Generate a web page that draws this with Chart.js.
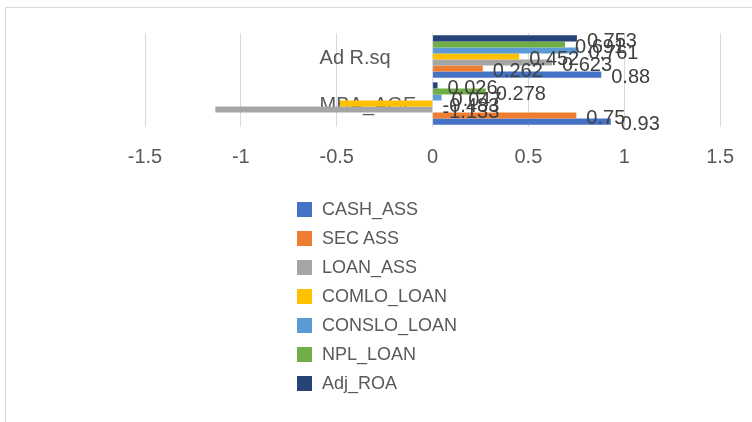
<!DOCTYPE html>
<html>
<head>
<meta charset="utf-8">
<script src="https://cdn.jsdelivr.net/npm/chart.js@4.4.0/dist/chart.umd.min.js"></script>
<style>
  html, body { margin: 0; padding: 0; background: #fff; }
  #wrap { position: relative; width: 752px; height: 422px; overflow: hidden;
          font-family: "Liberation Sans", Arial, sans-serif; }
  #frame { position: absolute; left: 5px; top: 7px; width: 800px; height: 420px;
           border: 1px solid #d9d9d9; }
  #chart { position: absolute; left: 0; top: 0; }
  #legend { position: absolute; left: 297px; top: 195px; }
  .item { height: 29px; display: flex; align-items: center; font-size: 18px; color: #595959; }
  .box { width: 15px; height: 15px; margin-right: 10px; }
</style>
</head>
<body>
<div id="wrap">
  <div id="frame"></div>
  <canvas id="chart" width="752" height="422"></canvas>
  <div id="legend"></div>
</div>
<script>
// categories, top to bottom
const categories = ["Ad R.sq", "MBA_AGE"];

// series values, one per category
const cashAss   = [0.88, 0.93];
const secAss    = [0.262, 0.75];
const loanAss   = [0.623, -1.133];
const comloLoan = [0.452, -0.483];
const consloLoan = [0.761, 0.047];
const nplLoan   = [0.691, 0.278];
const adjRoa    = [0.753, 0.026];

const xTicks = [-1.5, -1, -0.5, 0, 0.5, 1, 1.5];

// legend order (Excel draws the first series at the bottom of each group)
const series = [
  { label: "CASH_ASS",    data: cashAss,    color: "#4472C4" },
  { label: "SEC ASS",     data: secAss,     color: "#ED7D31" },
  { label: "LOAN_ASS",    data: loanAss,    color: "#A5A5A5" },
  { label: "COMLO_LOAN",  data: comloLoan,  color: "#FFC000" },
  { label: "CONSLO_LOAN", data: consloLoan, color: "#5B9BD5" },
  { label: "NPL_LOAN",    data: nplLoan,    color: "#70AD47" },
  { label: "Adj_ROA",     data: adjRoa,     color: "#264478" }
];

const FONT = '"Liberation Sans", Arial, sans-serif';

// category names sit just left of the zero line, behind the bars
const categoryLabels = {
  id: "categoryLabels",
  beforeDatasetsDraw(chart) {
    const ctx = chart.ctx;
    const zeroX = chart.scales.x.getPixelForValue(0);
    ctx.save();
    ctx.font = "20px " + FONT;
    ctx.fillStyle = "#595959";
    ctx.textAlign = "left";
    ctx.textBaseline = "middle";
    categories.forEach((c, i) => {
      ctx.fillText(c, zeroX - 113, chart.scales.y.getPixelForValue(i) + 2);
    });
    ctx.restore();
  }
};

// value labels at the end of each bar (negatives start right of zero)
const barValueLabels = {
  id: "barValueLabels",
  afterDatasetsDraw(chart) {
    const ctx = chart.ctx;
    const zeroX = chart.scales.x.getPixelForValue(0);
    ctx.save();
    ctx.font = "20px " + FONT;
    ctx.fillStyle = "#404040";
    ctx.textAlign = "left";
    ctx.textBaseline = "middle";
    for (let i = chart.data.datasets.length - 1; i >= 0; i--) {
      const ds = chart.data.datasets[i];
      chart.getDatasetMeta(i).data.forEach((bar, j) => {
        ctx.fillText(String(ds.data[j]), Math.max(bar.x, zeroX) + 10, bar.y + 3);
      });
    }
    ctx.restore();
  }
};

const datasets = series.slice().reverse().map(s => ({
  label: s.label,
  data: s.data,
  backgroundColor: s.color,
  borderWidth: 0,
  categoryPercentage: 0.9,
  barPercentage: 1.0
}));

const chart = new Chart(document.getElementById("chart"), {
  type: "bar",
  data: { labels: categories, datasets: datasets },
  options: {
    indexAxis: "y",
    responsive: false,
    animation: false,
    layout: { padding: { left: 145, right: 30, top: 33, bottom: 235 } },
    plugins: {
      legend: { display: false },
      tooltip: { enabled: false }
    },
    scales: {
      x: {
        min: -1.5,
        max: 1.5,
        afterBuildTicks: (scale) => { scale.ticks = xTicks.map(v => ({ value: v })); },
        ticks: {
          font: { size: 20, family: FONT },
          color: "#595959",
          padding: 18,
          callback: (v) => String(v)
        },
        grid: { color: "#d9d9d9", drawTicks: false },
        border: { display: false }
      },
      y: { display: false }
    }
  },
  plugins: [categoryLabels, barValueLabels]
});

// legend, one item per row, built from the series
const legend = document.getElementById("legend");
series.forEach(s => {
  const row = document.createElement("div");
  row.className = "item";
  const box = document.createElement("span");
  box.className = "box";
  box.style.background = s.color;
  const txt = document.createElement("span");
  txt.textContent = s.label;
  row.appendChild(box);
  row.appendChild(txt);
  legend.appendChild(row);
});
</script>
</body>
</html>
